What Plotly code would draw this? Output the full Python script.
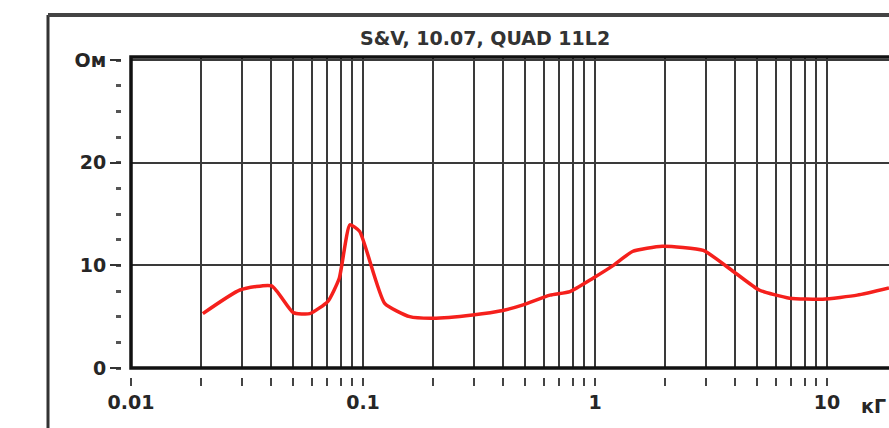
import numpy as np
import plotly.graph_objects as go

# Impedance curve (frequency in kHz, impedance in Ohm)
freq_khz = [0.0204, 0.0295, 0.0404, 0.050, 0.059, 0.0706, 0.079, 0.0878, 0.0968,
            0.124, 0.159, 0.20, 0.297, 0.40, 0.49, 0.64, 0.78, 0.98, 1.2, 1.45,
            1.95, 2.93, 3.95, 5.1, 6.9, 9.6, 13.5, 18.5]
impedance = [5.3, 7.6, 8.0, 5.4, 5.3, 6.5, 8.75, 13.95, 13.3,
             6.3, 5.0, 4.85, 5.17, 5.6, 6.15, 7.1, 7.45, 8.75, 10.0, 11.35,
             11.85, 11.45, 9.4, 7.6, 6.8, 6.7, 7.1, 7.8]

# Axis ticks
x_mult = [m for e in (-2, -1, 0, 1) for m in range(1, 10)]
x_tick_vals = [m * 10.0 ** e for e in (-2, -1, 0, 1) for m in range(1, 10)]
x_tick_text = [("%g" % v) if m == 1 else "" for v, m in zip(x_tick_vals, x_mult)]
y_tick_vals = [0, 10, 20, 30]
y_tick_text = ["0", "10", "20", "Ом"]
title_text = "S&V, 10.07, QUAD 11L2"
x_unit = "кГ"

W, H = 889, 428
ML, MT, MB = 121, 57, 51
plot_w = W - ML
plot_h = H - MT - MB
x_dom0 = 10 / plot_w
y_dom0 = 9 / plot_h
x_max = -2 + (W - 131) / 232.0

font = "DejaVu Sans, Arial, sans-serif"
grid_col = "#3a3a3a"
txt_col = "#262626"

fig = go.Figure()
fig.add_trace(go.Scatter(x=freq_khz, y=impedance, mode="lines",
                         line=dict(color="#f5201c", width=3.5, shape="spline",
                                   smoothing=0.5),
                         hoverinfo="skip", showlegend=False))

fig.update_layout(
    width=W, height=H,
    margin=dict(l=ML, r=0, t=MT, b=MB, pad=0),
    paper_bgcolor="white", plot_bgcolor="white",
    showlegend=False,
    xaxis=dict(type="log", range=[-2, x_max], domain=[x_dom0, 1],
               anchor="free", position=0,
               tickvals=x_tick_vals, ticktext=["<b>%s</b>" % t if t else "" for t in x_tick_text],
               ticks="outside", ticklen=8, tickwidth=2, tickcolor="#444",
               showgrid=True, gridcolor=grid_col, gridwidth=1.5,
               showline=False, zeroline=False,
               tickfont=dict(family=font, size=19, color=txt_col)),
    yaxis=dict(range=[0, 30.3], domain=[y_dom0, 1],
               anchor="free", position=0,
               tickvals=y_tick_vals, ticktext=["<b>%s</b>" % t for t in y_tick_text],
               ticks="outside", ticklen=11, tickwidth=2, tickcolor="#333",
               minor=dict(dtick=2.5, ticks="outside", ticklen=5, tickwidth=2.5,
                          tickcolor="#555", showgrid=False),
               showgrid=True, gridcolor=grid_col, gridwidth=1.5,
               showline=False, zeroline=False,
               tickfont=dict(family=font, size=19, color=txt_col)),
)

# Plot frame (left, bottom, top borders)
fig.add_shape(type="rect", xref="x domain", yref="y domain",
              x0=0, x1=1.01, y0=0, y1=1,
              line=dict(color="#111", width=3.5), fillcolor="rgba(0,0,0,0)")
# Outer panel frame
fx = (48 - ML) / plot_w
fy = (H - MB - 15) / plot_h
fig.add_shape(type="line", xref="paper", yref="paper",
              x0=fx, x1=fx, y0=-0.2, y1=fy, line=dict(color="#333", width=3))
fig.add_shape(type="line", xref="paper", yref="paper",
              x0=fx, x1=1.01, y0=fy, y1=fy, line=dict(color="#444", width=4))

fig.add_annotation(text="<b>" + title_text + "</b>", xref="paper", yref="paper",
                   x=(485 - ML) / plot_w, y=(H - MB - 38) / plot_h,
                   showarrow=False, xanchor="center", yanchor="middle",
                   font=dict(family=font, size=19, color="#333"))
fig.add_annotation(text="<b>" + x_unit + "</b>", xref="paper", yref="paper",
                   x=(859 - ML) / plot_w, y=(H - MB - 406) / plot_h,
                   showarrow=False, xanchor="left", yanchor="middle",
                   font=dict(family=font, size=19, color=txt_col))

fig.write_html("out.html")
